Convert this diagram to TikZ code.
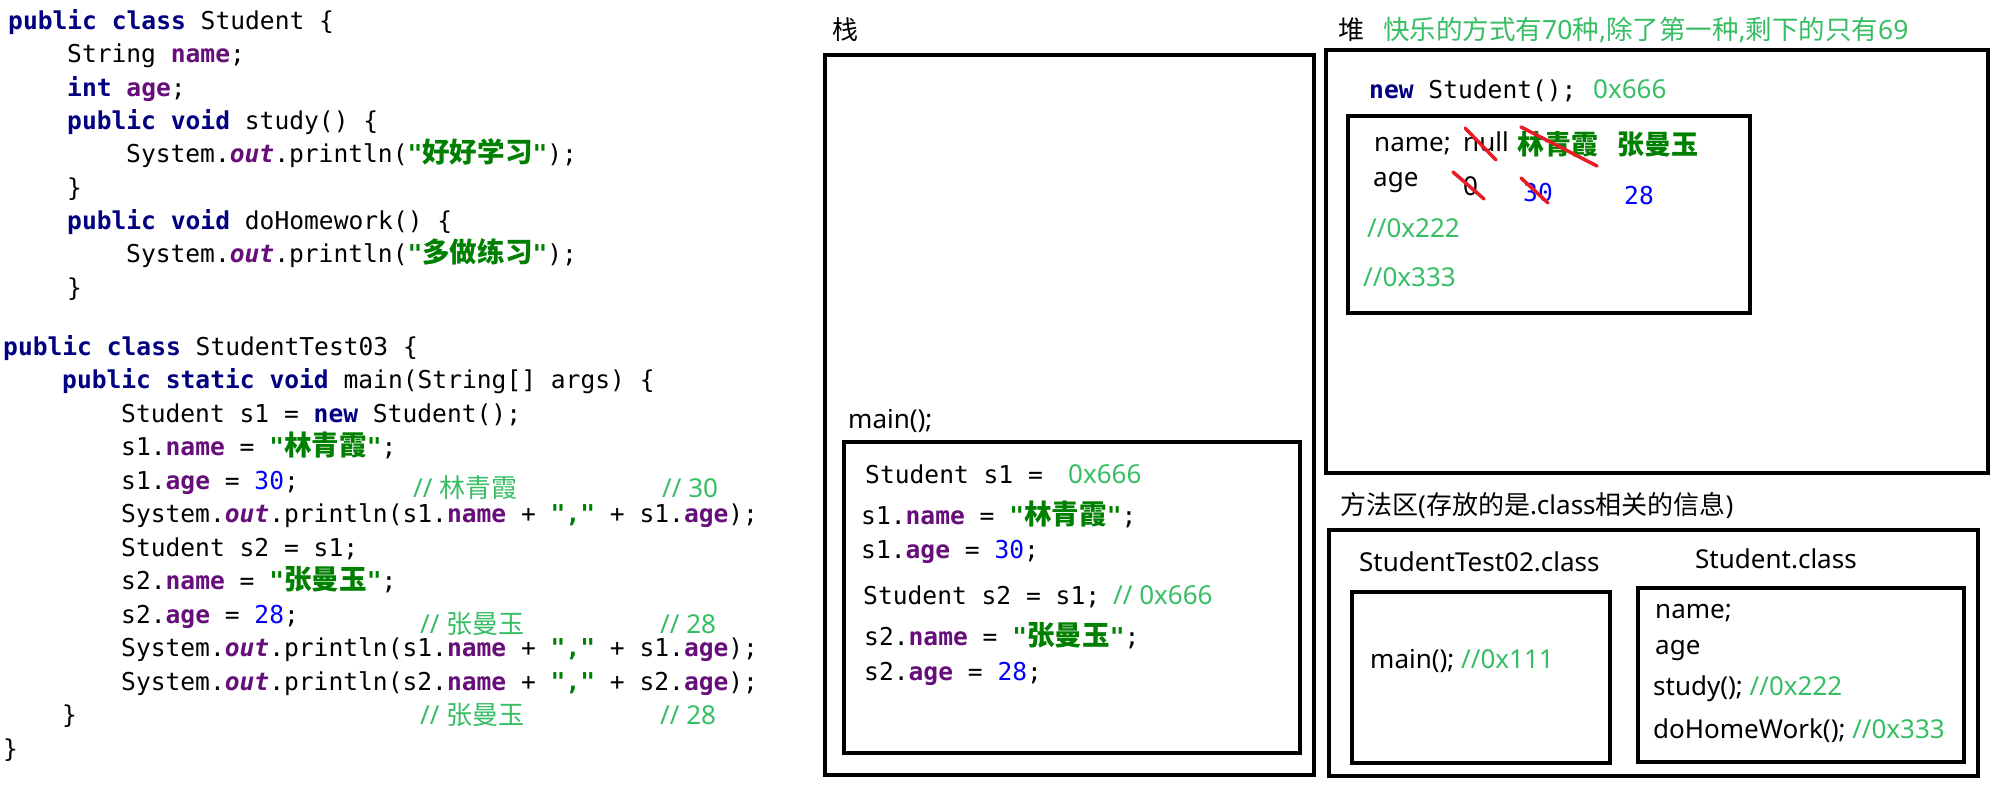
\documentclass[tikz,border=0pt]{standalone}
\usepackage{fontspec}
\setmainfont{Noto Sans}
\newfontfamily\cjk{Noto Sans CJK SC}
\newfontfamily\cjkc{Noto Sans CJK SC}[Scale=1.12]
\newfontfamily\mono{DejaVu Sans Mono}
\definecolor{kwc}{RGB}{0,0,128}
\definecolor{fdc}{RGB}{102,14,122}
\definecolor{stc}{RGB}{0,128,0}
\definecolor{numc}{RGB}{0,0,255}
\definecolor{cmc}{RGB}{55,190,100}
\definecolor{redc}{RGB}{232,28,36}
\newcommand\kw[1]{{\color{kwc}\bfseries #1}}
\newcommand\fd[1]{{\color{fdc}\bfseries #1}}
\newcommand\fdi[1]{{\color{fdc}\bfseries\itshape #1}}
\newcommand\st[1]{{\color{stc}\bfseries #1}}
\newcommand\cs[1]{{\cjkc #1}}
\newcommand\num[1]{{\color{numc}#1}}
\newcommand\cmt[1]{{\rmfamily\fontsize{26}{30}\selectfont\color{cmc}#1}}
\tikzset{
  code/.style={anchor=base west, inner sep=0pt, font=\mono\fontsize{24.6}{30}\selectfont},
  sans/.style={anchor=base west, inner sep=0pt, font=\fontsize{26}{30}\selectfont},
  green/.style={sans, text=cmc},
  box/.style={draw=black, line width=3.6pt},
  strike/.style={draw=redc, line width=3.5pt, line cap=round}
}
\begin{document}
\begin{tikzpicture}[x=1pt,y=-1pt]
\fill[white] (0,0) rectangle (1999,786);
\useasboundingbox (0,0) rectangle (1999,786);
% ---------- left code ----------
\node[code] (L1) at (8,30) {\kw{public class} Student \{};
\node[code] (L2) at (67,63) {String \fd{name};};
\node[code] (L3) at (67,97) {\kw{int} \fd{age};};
\node[code] (L4) at (67,130) {\kw{public void} study() \{};
\node[code] (L5) at (126,163) {System.\fdi{out}.println(\st{"\cs{好好学习}"});};
\node[code] (L6) at (67,197) {\}};
\node[code] (L7) at (67,230) {\kw{public void} doHomework() \{};
\node[code] (L8) at (126,263) {System.\fdi{out}.println(\st{"\cs{多做练习}"});};
\node[code] (L9) at (67,296) {\}};
\node[code] (M1) at (3,355) {\kw{public class} StudentTest03 \{};
\node[code] (M2) at (62,388.5) {\kw{public static void} main(String[] args) \{};
\node[code] (M3) at (121,422) {Student s1 = \kw{new} Student();};
\node[code] (M4) at (121,455.5) {s1.\fd{name} = \st{"\cs{林青霞}"};};
\node[code] (M5) at (121,489) {s1.\fd{age} = \num{30};};
\node[code] (M6) at (121,522.5) {System.\fdi{out}.println(s1.\fd{name} + \st{","} + s1.\fd{age});};
\node[code] (M7) at (121,556) {Student s2 = s1;};
\node[code] (M8) at (121,589.5) {s2.\fd{name} = \st{"\cs{张曼玉}"};};
\node[code] (M9) at (121,623) {s2.\fd{age} = \num{28};};
\node[code] (M10) at (121,656.5) {System.\fdi{out}.println(s1.\fd{name} + \st{","} + s1.\fd{age});};
\node[code] (M11) at (121,690) {System.\fdi{out}.println(s2.\fd{name} + \st{","} + s2.\fd{age});};
\node[code] (M12) at (62,723.5) {\}};
\node[code] (M13) at (3,757) {\}};
\node[green] (C1) at (413,497) {// {\cjk 林青霞}};
\node[green] (C2) at (662,497) {// 30};
\node[green] (C3) at (420,633) {// {\cjk 张曼玉}};
\node[green] (C4) at (660,633) {// 28};
\node[green] (C5) at (420,724) {// {\cjk 张曼玉}};
\node[green] (C6) at (660,724) {// 28};
% ---------- stack ----------
\node[sans] (S0) at (832,40) {{\cjk 栈}};
\draw[box] (825,55) rectangle (1314,775);
\node[sans] (S1) at (848,428) {main();};
\draw[box] (844,442) rectangle (1300,753);
\node[code] (B1) at (865,483) {Student s1 =};
\node[green] (B1c) at (1068,483) {0x666};
\node[code] (B2) at (861,524) {s1.\fd{name} = \st{"\cs{林青霞}"};};
\node[code] (B3) at (861,558) {s1.\fd{age} = \num{30};};
\node[code] (B4) at (863,604) {Student s2 = s1;};
\node[green] (B4c) at (1113,604) {// 0x666};
\node[code] (B5) at (864,645) {s2.\fd{name} = \st{"\cs{张曼玉}"};};
\node[code] (B6) at (864,680) {s2.\fd{age} = \num{28};};
% ---------- heap ----------
\node[sans] (H0) at (1338,40) {{\cjk 堆}};
\node[green, font=\fontsize{26.5}{30}\selectfont] (H0c) at (1383,40) {{\cjk 快乐的方式有}70{\cjk 种},{\cjk 除了第一种},{\cjk 剩下的只有}69};
\draw[box] (1326,50) rectangle (1988,473);
\node[code] (H1) at (1369,99) {\kw{new} Student();};
\node[green] (H1c) at (1593,99) {0x666};
\draw[box] (1348,116) rectangle (1750,313);
\node[sans] (H2) at (1374,152) {name;};
\node[sans] (H2a) at (1463,152) {null};
\node[sans, text=stc, font=\cjk\bfseries\fontsize{27}{30}\selectfont] (H2b) at (1517,155) {林青霞};
\node[sans, text=stc, font=\cjk\bfseries\fontsize{27}{30}\selectfont] (H2c) at (1617,155) {张曼玉};
\node[sans] (H3) at (1373,187) {age};
\node[sans] (H3a) at (1463,196) {0};
\node[code, text=numc] (H3b) at (1523,202) {30};
\node[code, text=numc] (H3c) at (1624,205) {28};
\node[green] (H4) at (1367,238) {//0x222};
\node[green] (H5) at (1363,287) {//0x333};
\draw[strike] (1465,128) -- (1496,160);
\draw[strike] (1521,127) -- (1597,166);
\draw[strike] (1453,172) -- (1484,199);
\draw[strike] (1521,178) -- (1548,203);
% ---------- method area ----------
\node[sans] (P0) at (1340,514) {{\cjk 方法区}({\cjk 存放的是}.class{\cjk 相关的信息})};
\draw[box] (1329,530) rectangle (1978,776);
\node[sans] (P1) at (1359,571) {StudentTest02.class};
\node[sans] (P2) at (1695,568) {Student.class};
\draw[box] (1352,592) rectangle (1610,763);
\draw[box] (1638,588) rectangle (1964,762);
\node[sans] (P3) at (1370,668) {main(); \cmt{//0x111}};
\node[sans] (P4) at (1655,618) {name;};
\node[sans] (P5) at (1655,654) {age};
\node[sans] (P6) at (1653,695) {study(); \cmt{//0x222}};
\node[sans] (P7) at (1653,738) {doHomeWork(); \cmt{//0x333}};
\end{tikzpicture}
\end{document}
